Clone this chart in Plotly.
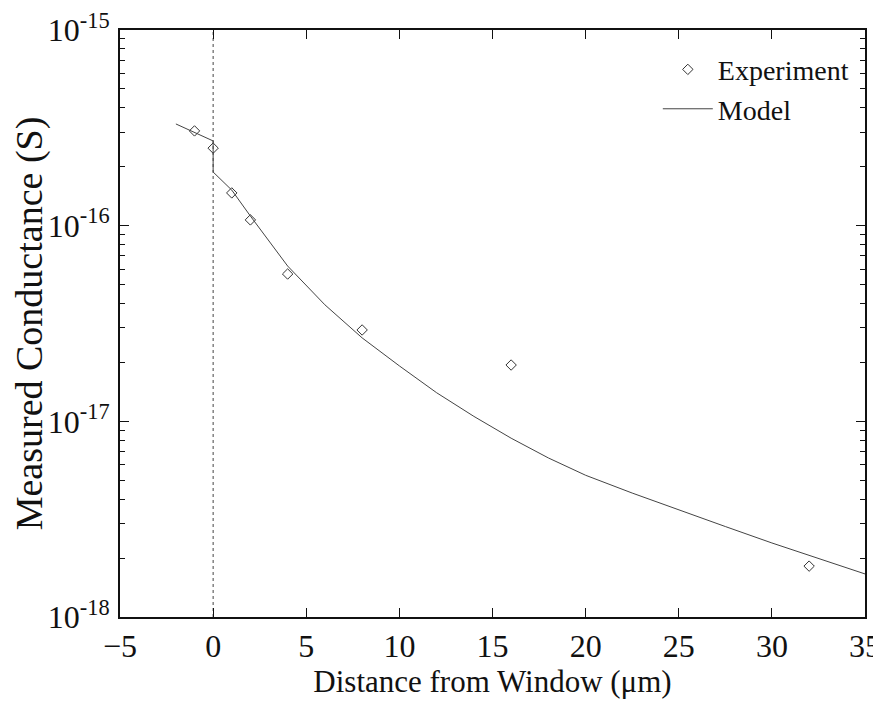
import plotly.graph_objects as go

# Experiment data
exp_x = [-1, 0, 1, 2, 4, 8, 16, 32]
exp_y = [3.05e-16, 2.49e-16, 1.47e-16, 1.07e-16, 5.66e-17, 2.93e-17, 1.94e-17, 1.82e-18]

# Model curve
model_x = [-2, 0, 0, 1, 2, 3, 4, 6, 8, 10, 12, 14, 16, 18, 20, 22.5, 25, 27.5, 30, 32.5, 35]
model_y = [3.31e-16, 2.71e-16, 1.88e-16, 1.52e-16, 1.12e-16, 8.3e-17, 6.22e-17, 3.94e-17,
           2.67e-17, 1.92e-17, 1.40e-17, 1.06e-17, 8.2e-18, 6.5e-18, 5.3e-18, 4.3e-18,
           3.52e-18, 2.9e-18, 2.39e-18, 1.99e-18, 1.66e-18]

# Window position marker line
window_x = [0, 0]
window_y = [1e-18, 1e-15]

x_ticks = [-5, 0, 5, 10, 15, 20, 25, 30, 35]
y_ticks = [1e-18, 1e-17, 1e-16, 1e-15]
y_ticklabels = ["10<sup>-18</sup>", "10<sup>-17</sup>", "10<sup>-16</sup>", "10<sup>-15</sup>"]
y_minor = [m * 10.0 ** e for e in (-18, -17, -16) for m in range(2, 10)]

font_family = "Liberation Serif, Times New Roman, serif"
ink = "#333333"

fig = go.Figure()
fig.add_trace(go.Scatter(x=window_x, y=window_y, mode="lines",
                         line=dict(color="#444444", width=1, dash="dot"),
                         showlegend=False, hoverinfo="skip"))
fig.add_trace(go.Scatter(x=exp_x, y=exp_y, mode="markers", name="Experiment",
                         marker=dict(symbol="diamond-open", size=8, color=ink,
                                     line=dict(width=1, color=ink))))
fig.add_trace(go.Scatter(x=model_x, y=model_y, mode="lines", name="Model",
                         line=dict(color="#444444", width=1)))

fig.update_layout(
    width=873, height=694,
    margin=dict(l=112, r=16, t=22, b=85),
    paper_bgcolor="white", plot_bgcolor="white",
    font=dict(family=font_family, size=28, color="#111111"),
    legend=dict(x=0.985, y=0.975, xanchor="right", yanchor="top",
                bgcolor="rgba(0,0,0,0)", font=dict(size=28), itemwidth=50,
                tracegroupgap=0),
)
fig.update_xaxes(
    range=[-5, 35], tickvals=x_ticks, ticks="inside", ticklen=9, tickwidth=1,
    tickcolor="#111111", showline=True, linecolor="#111111", linewidth=2,
    mirror="ticks", showgrid=False, zeroline=False, automargin=False,
    ticklabeloverflow="allow",
    title=dict(text="Distance from Window (μm)", font=dict(size=31), standoff=2),
    tickfont=dict(size=32),
)
fig.update_yaxes(
    type="log", range=[-18, -15], tickvals=y_ticks, ticktext=y_ticklabels,
    ticks="inside", ticklen=9, tickwidth=1, tickcolor="#111111",
    showline=True, linecolor="#111111", linewidth=2, mirror="ticks",
    showgrid=False, zeroline=False, ticklabelstandoff=2, automargin=False,
    ticklabeloverflow="allow",
    minor=dict(tickvals=y_minor, ticks="inside", ticklen=5, tickcolor="#111111", showgrid=False),
    title=dict(text="Measured Conductance (S)", font=dict(size=38), standoff=2),
    tickfont=dict(size=32),
)

fig.write_html("out.html")
